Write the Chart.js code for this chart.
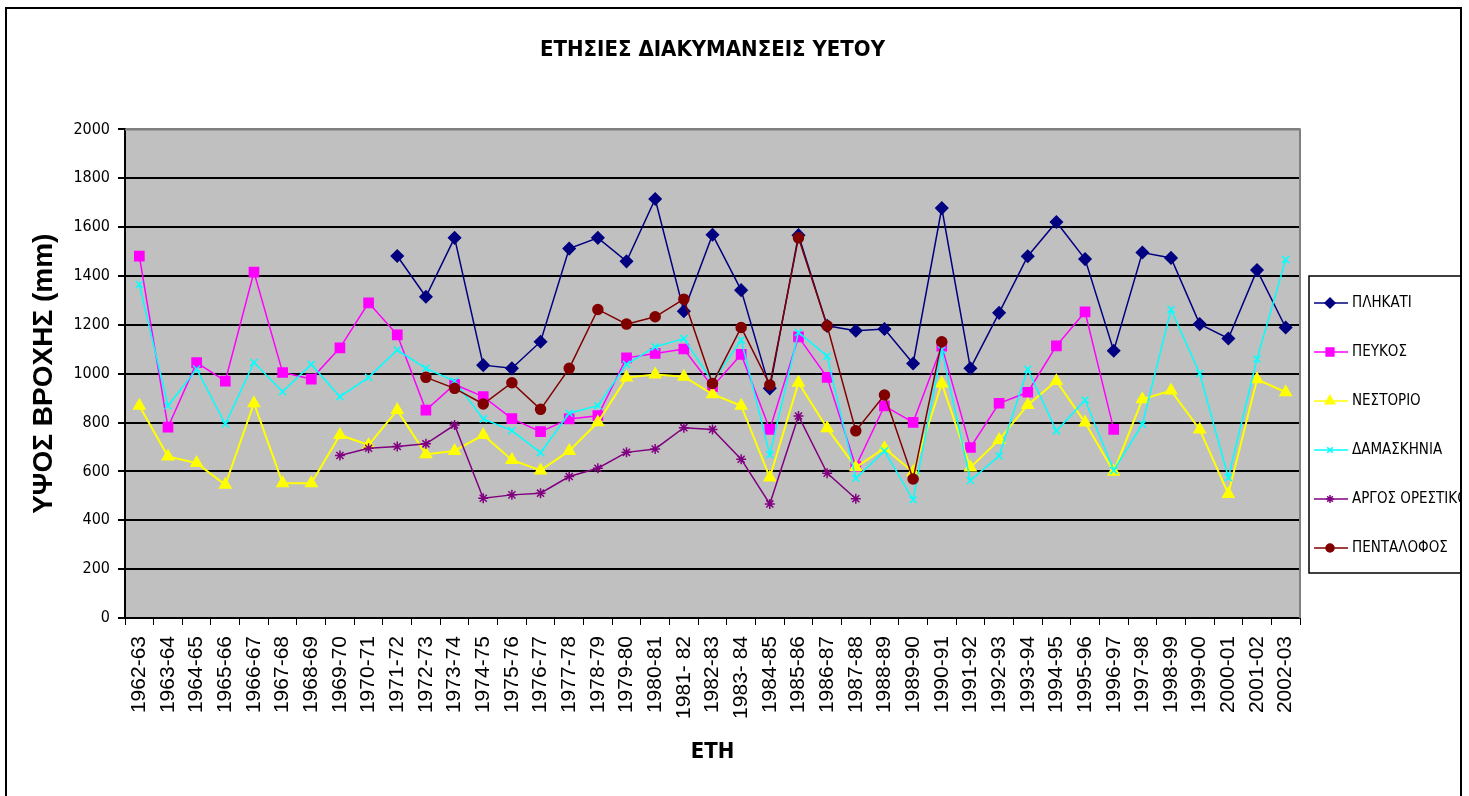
<!DOCTYPE html>
<html>
<head>
<meta charset="utf-8">
<title>ΕΤΗΣΙΕΣ ΔΙΑΚΥΜΑΝΣΕΙΣ ΥΕΤΟΥ</title>
<script src="https://cdn.jsdelivr.net/npm/chart.js@4/dist/chart.umd.min.js"></script>
<style>
    html, body { margin: 0; padding: 0; background: #fff; }
    #wrap { width: 1469px; height: 796px; }
</style>
</head>
<body>
<div id="wrap"><canvas id="rainChart" width="1469" height="796"></canvas></div>
<script>
// hydrological years
var years = ['1962-63', '1963-64', '1964-65', '1965-66', '1966-67', '1967-68', '1968-69',
    '1969-70', '1970-71', '1971-72', '1972-73', '1973-74', '1974-75', '1975-76', '1976-77',
    '1977-78', '1978-79', '1979-80', '1980-81', '1981- 82', '1982-83', '1983- 84', '1984-85',
    '1985-86', '1986-87', '1987-88', '1988-89', '1989-90', '1990-91', '1991-92', '1992-93',
    '1993-94', '1994-95', '1995-96', '1996-97', '1997-98', '1998-99', '1999-00', '2000-01',
    '2001-02', '2002-03'];

// annual rainfall (mm) per station
var plikati = [null, null, null, null, null, null, null, null, null, 1482, 1315, 1556, 1035, 1022,
    1131, 1512, 1556, 1460, 1715, 1256, 1569, 1342, 940, 1567, 1196, 1176, 1183, 1042, 1678, 1022,
    1249, 1481, 1621, 1469, 1094, 1496, 1474, 1203, 1144, 1424, 1189];
var pefkos = [1481, 781, 1045, 970, 1416, 1005, 978, 1106, 1290, 1159, 851, 956, 906, 816, 763,
    815, 828, 1065, 1083, 1101, 947, 1079, 772, 1151, 985, 620, 868, 801, 1113, 698, 879, 924,
    1114, 1253, 772, null, null, null, null, null, null];
var nestorio = [869, 661, 634, 545, 879, 552, 552, 749, 708, 851, 670, 684, 749, 647, 604, 684,
    801, 984, 997, 988, 916, 869, 575, 963, 777, 617, 695, 597, 960, 616, 729, 872, 970, 800, 599,
    895, 931, 772, 508, 977, 924];
var damaskinia = [1365, 869, 1019, 794, 1046, 926, 1038, 906, 985, 1097, 1022, 970, 815, 767, 677,
    838, 869, 1038, 1110, 1144, 967, 1138, 668, 1169, 1072, 572, 684, 484, 1097, 563, 663, 1018,
    766, 892, 604, 793, 1263, 1001, 575, 1060, 1467];
var argos = [null, null, null, null, null, null, null, 665, 695, 702, 713, 790, 490, 504, 511, 579,
    613, 678, 692, 779, 772, 650, 467, 827, 593, 488, null, null, null, null, null, null, null, null,
    null, null, null, null, null, null, null];
var pentalofos = [null, null, null, null, null, null, null, null, null, null, 985, 940, 876, 963,
    854, 1022, 1263, 1203, 1233, 1305, 960, 1189, 954, 1556, 1196, 766, 913, 569, 1131, null, null,
    null, null, null, null, null, null, null, null, null, null];

var yTicks = { min: 0, max: 2000, step: 200 };

var narrow = "'Liberation Sans Narrow', 'Arial Narrow', 'DejaVu Sans Condensed', sans-serif";
var regular = "'Liberation Sans', Arial, sans-serif";

function series(label, data, color, style, radius, width, order) {
    return {
        label: label,
        data: data,
        borderColor: color,
        backgroundColor: color,
        pointBackgroundColor: color,
        pointBorderColor: color,
        pointStyle: style,
        pointRadius: radius,
        pointBorderWidth: 1.5,
        borderWidth: width,
        spanGaps: false,
        tension: 0,
        order: order
    };
}

// background, plot edges, legend box and outer frame
var chartFrame = {
    id: 'chartFrame',
    beforeDraw: function (chart) {
        var a = chart.chartArea, ctx = chart.ctx;
        ctx.save();
        ctx.fillStyle = '#ffffff';
        ctx.fillRect(0, 0, chart.width, chart.height);
        ctx.fillStyle = '#c0c0c0';
        ctx.fillRect(a.left, a.top, a.right - a.left, a.bottom - a.top);
        ctx.restore();
    },
    beforeDatasetsDraw: function (chart) {
        var a = chart.chartArea, ctx = chart.ctx;
        ctx.save();
        ctx.strokeStyle = '#808080';
        ctx.lineWidth = 2;
        ctx.beginPath();
        ctx.moveTo(a.left, a.top);
        ctx.lineTo(a.right, a.top);
        ctx.lineTo(a.right, a.bottom);
        ctx.stroke();
        ctx.restore();
    },
    afterDraw: function (chart) {
        var a = chart.chartArea, ctx = chart.ctx;
        var frameRight = chart.width - 8;
        var bx = a.right + 9, by = 276, bw = frameRight - bx, bh = 297;

        ctx.save();
        // legend entries, clipped to the legend box like the original
        ctx.beginPath();
        ctx.rect(bx, by, bw, bh);
        ctx.clip();
        chart.data.datasets.forEach(function (ds, i) {
            var y = by + 27 + i * 49;
            ctx.strokeStyle = ds.borderColor;
            ctx.fillStyle = ds.borderColor;
            ctx.lineWidth = 1.5;
            ctx.beginPath();
            ctx.moveTo(bx + 5, y);
            ctx.lineTo(bx + 39, y);
            ctx.stroke();
            if (Chart.helpers && Chart.helpers.drawPoint) {
                Chart.helpers.drawPoint(ctx, {
                    pointStyle: ds.pointStyle,
                    radius: ds.pointRadius - 1,
                    borderWidth: 1.5,
                    rotation: 0
                }, bx + 21, y);
            }
            ctx.fillStyle = '#000';
            ctx.font = '15px ' + narrow;
            ctx.textBaseline = 'middle';
            ctx.textAlign = 'left';
            ctx.fillText(ds.label, bx + 43, y);
        });
        ctx.restore();

        ctx.save();
        ctx.strokeStyle = '#000';
        ctx.lineWidth = 1.5;
        ctx.strokeRect(bx, by, bw, bh);
        ctx.lineWidth = 2;
        ctx.strokeRect(6, 8, frameRight - 6, chart.height);
        ctx.restore();
    }
};

var ctxRain = document.getElementById('rainChart').getContext('2d');
var rainChart = new Chart(ctxRain, {
    type: 'line',
    data: {
        labels: years,
        datasets: [
            series('ΠΛΗΚΑΤΙ', plikati, '#000080', 'rectRot', 6, 1.5, 5),
            series('ΠΕΥΚΟΣ', pefkos, '#ff00ff', 'rect', 6.5, 1.5, 4),
            series('ΝΕΣΤΟΡΙΟ', nestorio, '#ffff00', 'triangle', 6.5, 2, 3),
            series('ΔΑΜΑΣΚΗΝΙΑ', damaskinia, '#00ffff', 'crossRot', 5, 1.5, 2),
            series('ΑΡΓΟΣ ΟΡΕΣΤΙΚΟ', argos, '#800080', 'star', 5, 1.5, 1),
            series('ΠΕΝΤΑΛΟΦΟΣ', pentalofos, '#800000', 'circle', 5, 1.5, 0)
        ]
    },
    options: {
        responsive: false,
        animation: false,
        devicePixelRatio: 1,
        layout: { padding: { left: 10, right: 169, top: 10, bottom: 0 } },
        plugins: {
            legend: { display: false },
            tooltip: { enabled: false },
            title: {
                display: true,
                fullSize: false,
                text: 'ΕΤΗΣΙΕΣ ΔΙΑΚΥΜΑΝΣΕΙΣ ΥΕΤΟΥ',
                color: '#000',
                font: { family: narrow, size: 22, weight: 'bold' },
                padding: { top: 27, bottom: 66 }
            }
        },
        scales: {
            x: {
                offset: true,
                ticks: {
                    color: '#000',
                    font: { family: regular, size: 21 },
                    maxRotation: 90,
                    minRotation: 90,
                    autoSkip: false,
                    padding: 11
                },
                grid: {
                    drawOnChartArea: false,
                    offset: true,
                    tickLength: 7,
                    color: '#000',
                    lineWidth: 1
                },
                border: { color: '#000', width: 2 },
                title: {
                    display: true,
                    text: 'ΕΤΗ',
                    color: '#000',
                    font: { family: narrow, size: 22, weight: 'bold' },
                    padding: { top: 0, bottom: 31 }
                },
                afterFit: function (scale) { scale.height = 178; }
            },
            y: {
                min: yTicks.min,
                max: yTicks.max,
                ticks: {
                    stepSize: yTicks.step,
                    color: '#000',
                    font: { family: narrow, size: 16 },
                    padding: 8,
                    callback: function (value) { return String(value); }
                },
                grid: {
                    color: function (c) { return c.tick && c.tick.value === yTicks.max ? '#808080' : '#000'; },
                    tickColor: '#000',
                    lineWidth: 2,
                    tickLength: 7
                },
                border: { color: '#000', width: 2 },
                title: {
                    display: true,
                    text: 'ΥΨΟΣ ΒΡΟΧΗΣ (mm)',
                    color: '#000',
                    font: { family: regular, size: 28, weight: 'bold' },
                    padding: { top: 17, bottom: 0 }
                },
                afterFit: function (scale) { scale.width = 115; }
            }
        }
    },
    plugins: [chartFrame]
});
</script>
</body>
</html>
